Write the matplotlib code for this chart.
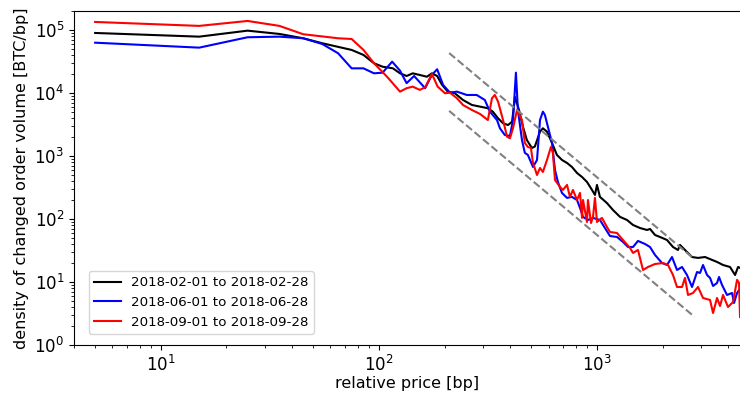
import matplotlib
matplotlib.use("Agg")
import matplotlib.pyplot as plt

# relative price [bp] / density [BTC/bp]
feb_x = [5, 15, 25, 35, 45, 55, 75, 85, 95, 104, 116, 125, 134, 143, 154, 166, 175, 185, 195,
         207, 223, 243, 267, 291, 316, 333, 352, 371, 391, 408, 421, 439, 458, 477, 503, 519,
         548, 565, 590, 622, 655, 691, 729, 768, 810, 854, 900, 949, 979, 1000, 1032, 1111,
         1184, 1275, 1373, 1463, 1575, 1696, 1751, 1846, 1945, 2095, 2232, 2352, 2403, 2533,
         2728, 2906, 3130, 3371, 3552, 3785, 4075, 4297, 4435, 4529]
feb_y = [89600, 78300, 97500, 86400, 73800, 61500, 48200, 40100, 29600, 26100, 24600, 20500,
         18600, 20500, 19300, 18100, 20500, 18600, 13400, 10500, 9890, 7740, 6450, 6070, 5720,
         5050, 3960, 3300, 3100, 3500, 8640, 5370, 2890, 1790, 1340, 1410, 2430, 2750, 2430,
         1610, 1040, 865, 774, 669, 537, 464, 387, 289, 241, 347, 224, 179, 139, 108, 96.4,
         80.3, 71.9, 66.9, 69.4, 55.7, 51.8, 46.4, 35.9, 32.2, 38.7, 32.2, 24.9, 24.1, 24.9,
         22.4, 20.8, 18.6, 17.3, 12.9, 17.3, 16.7]

jun_x = [5, 15, 25, 35, 45, 55, 65, 75, 85, 95, 104, 115, 125, 134, 145, 163, 175, 185, 197,
         212, 228, 253, 281, 306, 323, 348, 359, 378, 399, 412, 425, 434, 453, 467, 482, 509,
         531, 548, 565, 577, 596, 622, 642, 662, 691, 729, 768, 810, 836, 863, 909, 959, 1032,
         1088, 1147, 1235, 1316, 1388, 1463, 1542, 1661, 1751, 1846, 1987, 2095, 2208, 2328,
         2455, 2587, 2728, 2876, 2968, 3064, 3197, 3300, 3406, 3552, 3628, 3745, 3948, 4162,
         4251, 4388, 4482]
jun_y = [62800, 52400, 76600, 78300, 73800, 59900, 42700, 24600, 24600, 20500, 21000, 31400,
         22600, 14300, 18600, 11900, 19300, 23800, 13400, 10100, 10500, 9290, 9290, 7740, 5050,
         3720, 2750, 2150, 2080, 3720, 21000, 5370, 1790, 1120, 1040, 669, 865, 3720, 5050,
         4480, 2890, 1610, 600, 387, 259, 216, 224, 200, 150, 108, 96.4, 104, 96.4, 71.9, 53.7,
         51.8, 43.2, 35.9, 35.9, 44.8, 40.1, 35.9, 26.8, 20.0, 18.6, 24.9, 15.5, 17.3, 12.9,
         8.33, 14.4, 13.9, 18.6, 12.9, 11.6, 8.64, 9.64, 12.0, 8.96, 6.22, 6.69, 4.64, 6.69, 7.46]

sep_x = [5, 15, 25, 35, 45, 55, 65, 75, 85, 95, 109, 125, 134, 143, 154, 163, 175, 186, 201,
         212, 228, 243, 267, 291, 316, 330, 340, 352, 371, 387, 399, 412, 430, 453, 467, 482,
         498, 509, 531, 548, 565, 590, 615, 628, 642, 677, 698, 729, 752, 776, 810, 836, 854,
         863, 900, 909, 939, 959, 979, 1000, 1054, 1111, 1147, 1235, 1316, 1418, 1463, 1542,
         1626, 1714, 1846, 2008, 2117, 2232, 2328, 2455, 2533, 2615, 2757, 2906, 3064, 3300,
         3406, 3552, 3667, 3785, 3990, 4207, 4388, 4482, 4529]
sep_y = [134000, 116000, 139000, 116000, 85500, 79000, 73800, 71900, 48200, 29600, 18100,
         10500, 11900, 12600, 11200, 12300, 20000, 12600, 9890, 10100, 8240, 6450, 5370, 4640,
         3720, 8240, 9290, 7280, 3720, 2020, 1910, 2750, 5370, 3720, 1610, 1390, 1340, 774, 499,
         645, 558, 865, 1390, 1120, 416, 322, 289, 347, 224, 289, 200, 259, 104, 200, 89.6, 200,
         86.4, 108, 216, 89.6, 104, 74.6, 62.2, 59.9, 46.4, 34.7, 28.9, 32.2, 15.5, 17.3, 19.3,
         20.0, 18.6, 12.9, 8.33, 8.33, 11.6, 6.22, 6.69, 8.33, 5.57, 5.18, 3.22, 5.57, 4.16,
         6.22, 4.01, 4.82, 10.8, 9.64, 2.78]

labels = ["2018-02-01 to 2018-02-28", "2018-06-01 to 2018-06-28", "2018-09-01 to 2018-09-28"]

# guide lines (end points)
guide_x = [210, 2800]
guide_hi = [43000, 23]
guide_lo = [5200, 2.8]

fig = plt.figure(figsize=(7.4, 3.94), dpi=100)
ax = fig.add_axes([0.1, 0.1244, 0.9014, 0.8477])

ax.plot(feb_x, feb_y, color="k", lw=1.5, label=labels[0])
ax.plot(jun_x, jun_y, color="b", lw=1.5, label=labels[1])
ax.plot(sep_x, sep_y, color="r", lw=1.5, label=labels[2])
ax.plot(guide_x, guide_hi, "--", color="gray", lw=1.5)
ax.plot(guide_x, guide_lo, "--", color="gray", lw=1.5)

ax.set_xscale("log")
ax.set_yscale("log")
ax.set_xlim(4.0, 4577)
ax.set_ylim(1, 2e5)
ax.spines["right"].set_visible(False)
ax.tick_params(labelsize=12)
ax.set_xlabel("relative price [bp]", fontsize=11.5, labelpad=1)
ax.set_ylabel("density of changed order volume [BTC/bp]", fontsize=11.5)
ax.legend(loc="lower left", bbox_to_anchor=(0.012, 0.013), fontsize=9.6)

fig.savefig("out.png", dpi=100)
